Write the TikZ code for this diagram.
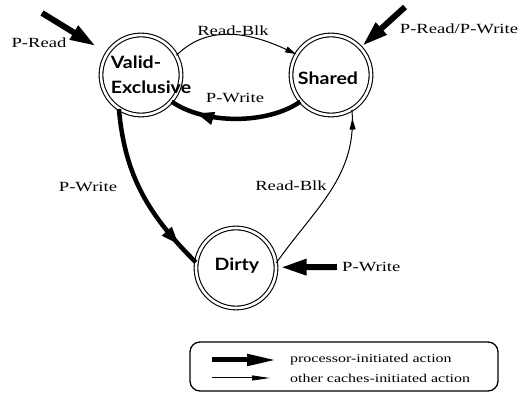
\documentclass[tikz,border=0pt]{standalone}
\usepackage{fontspec}
\setmainfont{Liberation Serif}
\newfontfamily\statefont[FakeStretch=1.15]{Lato}
\newfontfamily\lblfont[FakeStretch=1.33]{Liberation Serif}
\usetikzlibrary{arrows.meta,decorations.markings}

\tikzset{
  statering/.style={circle, draw, double, double distance=2.6pt, line width=1.1pt,
    minimum size=80pt, inner sep=0pt},
  statename/.style={font=\statefont\bfseries\fontsize{17}{25}\selectfont, align=left, inner sep=0pt},
  edgelabel/.style={font=\lblfont\fontsize{14}{16}\selectfont, inner sep=0pt},
  legendtext/.style={font=\lblfont\fontsize{12}{14}\selectfont, inner sep=0pt, anchor=west},
  procedge/.style={line width=4.5pt},
  otheredge/.style={line width=1pt},
  bighead/.style={-{Triangle[length=26pt,width=15pt]}, line width=6pt},
  procmark/.style={postaction={decorate}, decoration={markings,
    mark=at position #1 with {\arrow{Triangle[length=18pt,width=12pt]}}}},
  othermark/.style={postaction={decorate}, decoration={markings,
    mark=at position #1 with {\arrow{Triangle[length=11pt,width=6pt]}}}},
}

\begin{document}
\begin{tikzpicture}[x=1pt,y=1pt]
\useasboundingbox (0,0) rectangle (531,396);

% states
\node[statering] (ve) at (141,321) {};
\node[statering] (sh) at (331,321) {};
\node[statering] (dy) at (236,128) {};
\node[statename] (vetext) at (151,321) {Valid-\\Exclusive};
\node[statename] (shtext) at (328,318) {Shared};
\node[statename] (dytext) at (237,130) {Dirty};

% transitions between states
\draw[otheredge, -{Triangle[length=11pt,width=6pt]}] (ve.29) to[out=45,in=155] (sh.149);
\draw[procedge, procmark=0.8] (sh.221) to[out=-145,in=-35,looseness=0.8] (ve.319);
\draw[procedge, procmark=0.86] (ve.237) to[out=-85,in=135] (dy.172);
\draw[otheredge, othermark=0.95] (dy.7) to[out=55,in=-85] (sh.301);

% processor requests from outside
\coordinate (preadtail) at (42,383);
\coordinate (pwrtail) at (405,389);
\coordinate (pwritetail) at (337,129);
\draw[bighead, shorten >=13pt] (preadtail) -- (ve.147);
\draw[bighead, shorten >=2pt] (pwrtail) -- (sh.43);
\draw[bighead, shorten >=4pt] (pwritetail) -- (dy.1);

% transition labels
\node[edgelabel] (l1) at (233,365) {Read-Blk};
\node[edgelabel] (l2) at (235,298) {P-Write};
\node[edgelabel] (l3) at (39,353) {P-Read};
\node[edgelabel] (l4) at (459,367) {P-Read/P-Write};
\node[edgelabel] (l5) at (88,209) {P-Write};
\node[edgelabel] (l6) at (291,210) {Read-Blk};
\node[edgelabel, anchor=west] (l7) at (342,129) {P-Write};

% legend
\draw[line width=1.3pt, rounded corners=10pt] (190,5) rectangle (498,54);
\coordinate (la1) at (212,36);
\coordinate (lb1) at (277,36);
\coordinate (la2) at (212,18);
\coordinate (lb2) at (270,18);
\draw[line width=5pt, -{Triangle[length=30pt,width=11pt]}] (la1) -- (lb1);
\draw[line width=1pt, -{Triangle[length=18pt,width=5pt]}] (la2) -- (lb2);
\node[legendtext] (lt1) at (290,36) {processor-initiated action};
\node[legendtext] (lt2) at (290,18) {other caches-initiated action};
\end{tikzpicture}
\end{document}
